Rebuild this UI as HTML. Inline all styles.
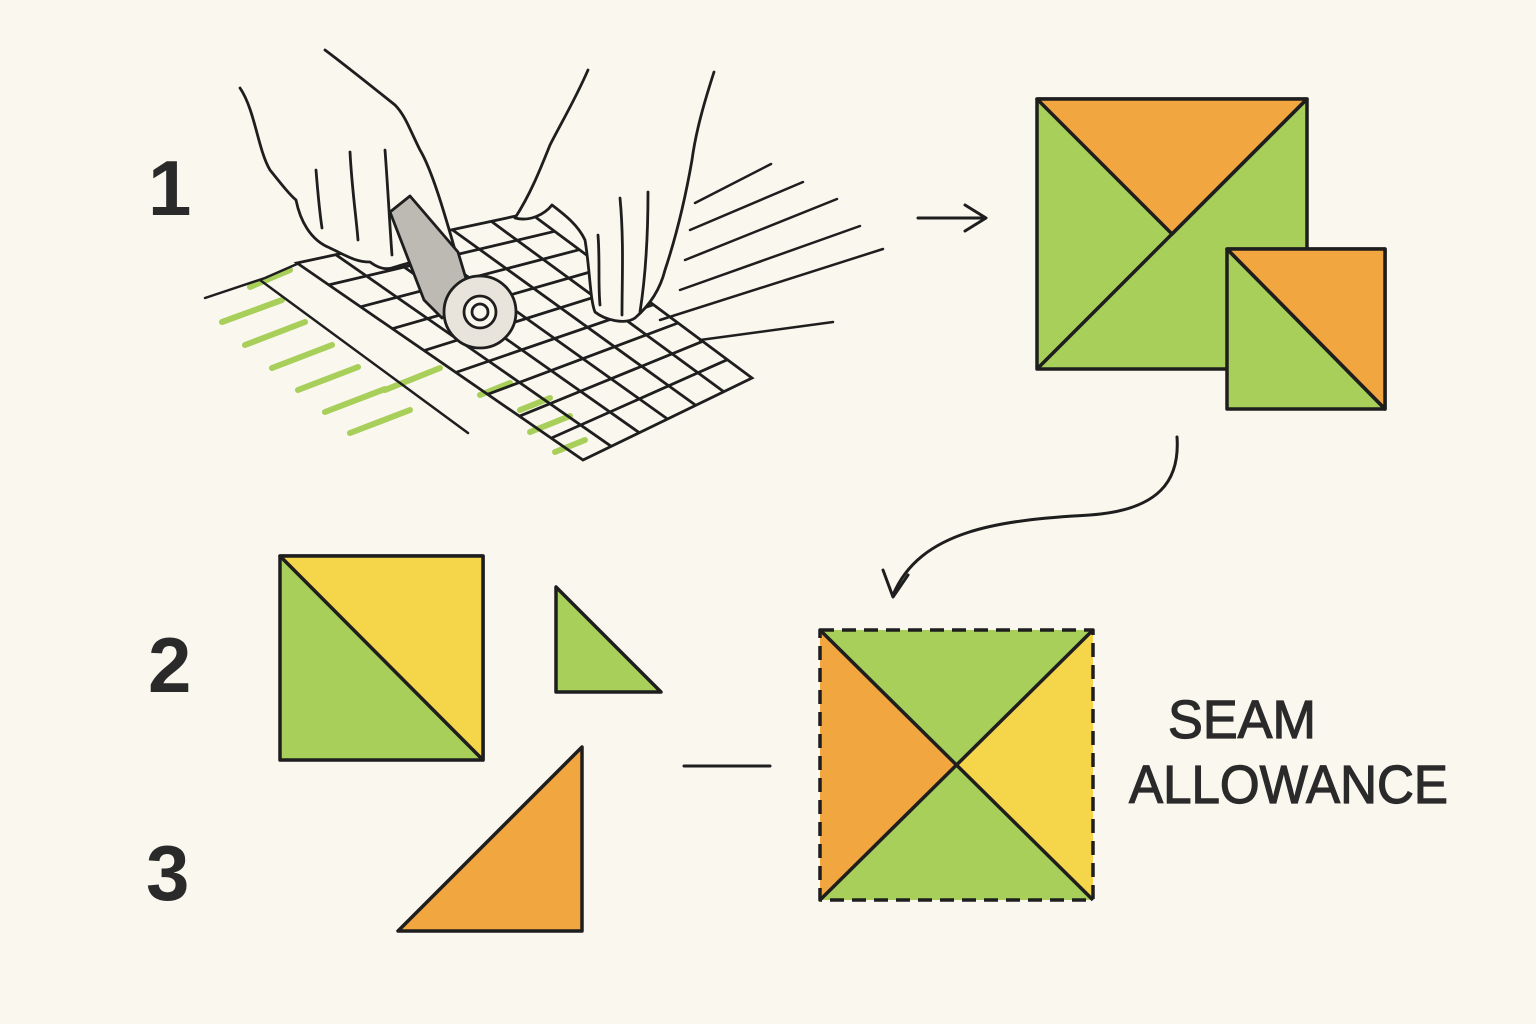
<!DOCTYPE html>
<html><head><meta charset="utf-8"><style>
html,body{margin:0;padding:0;background:#faf7ef;}
svg{display:block}
text{font-family:"Liberation Sans",sans-serif;fill:#2a2a2a}
</style></head><body>
<svg width="1536" height="1024" viewBox="0 0 1536 1024" xmlns="http://www.w3.org/2000/svg">
<rect width="1536" height="1024" fill="#faf7ef"/>
<!-- numbers -->
<text x="148" y="215" font-size="78" font-weight="bold">1</text>
<text x="148" y="692" font-size="78" font-weight="bold">2</text>
<text x="146" y="900" font-size="78" font-weight="bold">3</text>

<!-- green strokes -->
<g stroke="#a8cf5a" stroke-width="6" stroke-linecap="round">
<line x1="222" y1="322" x2="282" y2="300"/>
<line x1="245" y1="345" x2="305" y2="322"/>
<line x1="272" y1="368" x2="332" y2="345"/>
<line x1="298" y1="390" x2="358" y2="367"/>
<line x1="325" y1="412" x2="385" y2="389"/>
<line x1="350" y1="433" x2="410" y2="410"/>
<line x1="385" y1="390" x2="440" y2="368"/>
<line x1="480" y1="395" x2="510" y2="383"/>
<line x1="520" y1="410" x2="550" y2="398"/>
<line x1="530" y1="432" x2="570" y2="416"/>
<line x1="555" y1="452" x2="585" y2="440"/>
<line x1="250" y1="287" x2="290" y2="270"/>
</g>
<!-- long lines -->
<g stroke="#1e1e1e" stroke-width="2.5" fill="none" stroke-linecap="round">
<path d="M205,298 L265,278 L297,264"/>
<line x1="260" y1="280" x2="468" y2="433"/>
<line x1="695" y1="203" x2="771" y2="164"/>
<line x1="690" y1="230" x2="803" y2="182"/>
<line x1="685" y1="260" x2="837" y2="199"/>
<line x1="680" y1="290" x2="860" y2="226"/>
<line x1="660" y1="320" x2="883" y2="249"/>
<line x1="700" y1="340" x2="833" y2="322"/>
</g>
<!-- grid -->
<g stroke="#1e1e1e" stroke-width="2.8" fill="none">
<path d="M297,263 L530,213 L752,378 L583,460 Z"/>
<line x1="335.8" y1="254.7" x2="611.2" y2="446.3"/>
<line x1="374.7" y1="246.3" x2="639.3" y2="432.7"/>
<line x1="413.5" y1="238" x2="667.5" y2="419"/>
<line x1="452.3" y1="229.7" x2="695.7" y2="405.3"/>
<line x1="491.2" y1="221.3" x2="723.8" y2="391.7"/>
<line x1="328.8" y1="284.9" x2="554.7" y2="231.3"/>
<line x1="360.6" y1="306.8" x2="579.3" y2="249.7"/>
<line x1="392.3" y1="328.7" x2="604" y2="268"/>
<line x1="424.1" y1="350.6" x2="628.7" y2="286.3"/>
<line x1="455.9" y1="372.4" x2="653.3" y2="304.7"/>
<line x1="487.7" y1="394.3" x2="678" y2="323"/>
<line x1="519.4" y1="416.2" x2="702.7" y2="341.3"/>
<line x1="551.2" y1="438.1" x2="727.3" y2="359.7"/>
</g>
<!-- hands -->
<g stroke="#1e1e1e" stroke-width="2.8" fill="#faf7ef" stroke-linejoin="round" stroke-linecap="round">
<path d="M240,88 C255,110 258,150 270,170 C282,185 290,195 296,200 C300,220 310,240 330,248 C345,255 355,262 370,262 C378,268 385,270 392,268 C410,262 430,258 455,250 C445,215 432,170 420,150 C410,130 405,115 395,105 C370,85 345,65 325,50"/>
<path d="M390,212 L410,196 L458,252 L470,292 L442,318 L424,300 Z" fill="#bdbab4"/>
<circle cx="480" cy="312" r="36" fill="#e8e4dc"/>
<circle cx="480" cy="312" r="16" fill="#faf7ef"/>
<circle cx="480" cy="312" r="8" fill="#faf7ef"/>
<path d="M588,70 C575,100 560,125 550,145 C540,170 530,195 515,218 C530,222 545,214 552,205 C565,215 578,225 585,240 C590,270 590,300 595,312 C605,320 625,325 635,318 C650,305 660,290 665,270 C675,240 685,200 692,160 C696,130 705,100 714,72"/>
<path d="M316,170 C318,195 320,215 322,228 M350,152 C352,190 356,215 358,240 M385,150 C388,190 390,230 392,255" fill="none"/>
<path d="M598,235 C600,260 598,285 600,305 M620,198 C624,240 622,280 622,315 M648,192 C648,240 645,280 640,312" fill="none"/>
</g>

<!-- arrows -->
<g stroke="#1e1e1e" stroke-width="3" fill="none" stroke-linecap="round" stroke-linejoin="round">
<line x1="918" y1="218" x2="985" y2="218"/>
<path d="M965,205 L986,218 L965,231"/>
<path d="M1177,437 C1180,480 1160,510 1090,515 C1000,520 920,530 893,595"/>
<path d="M883,570 L893,597 L908,575"/>
<line x1="684" y1="766" x2="770" y2="766"/>
</g>

<!-- big square top right -->
<g stroke="#1e1e1e" stroke-width="3.5" stroke-linejoin="round">
<rect x="1037" y="99" width="270" height="270" fill="#a8cf5a"/>
<polygon points="1037,99 1307,99 1172,234" fill="#f2a640"/>
<line x1="1307" y1="99" x2="1037" y2="369"/>
<rect x="1227" y="249" width="158" height="160" fill="#a8cf5a"/>
<polygon points="1227,249 1385,249 1385,409" fill="#f2a640"/>
<line x1="1227" y1="249" x2="1385" y2="409"/>
</g>

<!-- bottom left pieces -->
<g stroke="#1e1e1e" stroke-width="3.5" stroke-linejoin="round">
<rect x="280" y="556" width="203" height="204" fill="#a8cf5a"/>
<polygon points="280,556 483,556 483,760" fill="#f5d54a"/>
<polygon points="556,587 556,692 661,692" fill="#a8cf5a"/>
<polygon points="398,931 582,931 582,747" fill="#f2a640"/>
</g>

<!-- dashed square -->
<g stroke="#1e1e1e" stroke-width="3.5" stroke-linejoin="round">
<polygon points="820,630 1093,630 957,765" fill="#a8cf5a" stroke="none"/>
<polygon points="820,630 957,765 820,900" fill="#f2a640" stroke="none"/>
<polygon points="1093,630 1093,900 957,765" fill="#f5d54a" stroke="none"/>
<polygon points="820,900 1093,900 957,765" fill="#a8cf5a" stroke="none"/>
<line x1="820" y1="630" x2="1093" y2="900"/>
<line x1="1093" y1="630" x2="820" y2="900"/>
<rect x="820" y="630" width="273" height="270" fill="none" stroke-dasharray="14,8"/>
</g>

<text x="1168" y="738" font-size="54" stroke="#2a2a2a" stroke-width="1.2" textLength="148" lengthAdjust="spacingAndGlyphs">SEAM</text>
<text x="1129" y="803" font-size="54" stroke="#2a2a2a" stroke-width="1.2" textLength="319" lengthAdjust="spacingAndGlyphs">ALLOWANCE</text>
</svg>
</body></html>
